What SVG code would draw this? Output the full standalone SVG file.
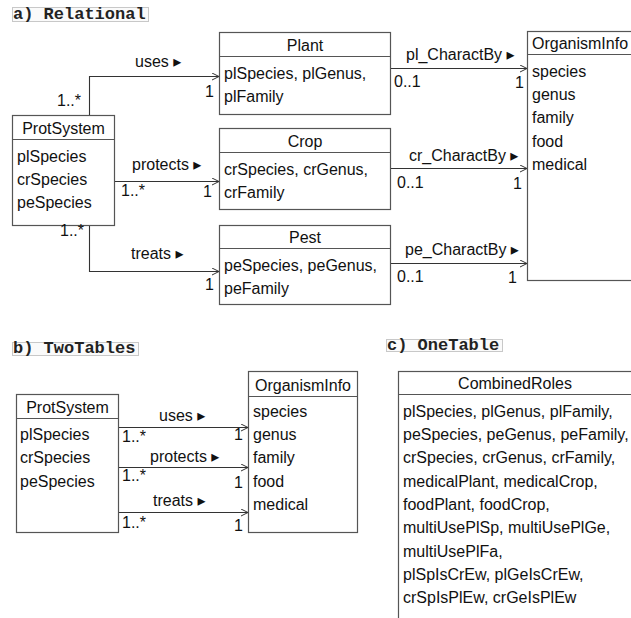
<svg xmlns="http://www.w3.org/2000/svg" width="631" height="618" viewBox="0 0 631 618">
<style>
.bg{fill:#ffffff}
.title{font-family:"Liberation Mono","Courier New",monospace;font-weight:bold;font-size:17px;fill:#222}
.tbox{fill:#fafafa;stroke:#c8c8c8;stroke-width:1}
.box{fill:#ffffff;stroke:#555555;stroke-width:1.2}
.div{stroke:#555555;stroke-width:1.2}
.t{font-family:"Liberation Sans",Arial,"DejaVu Sans",sans-serif;font-size:16px;fill:#111}
.c{text-anchor:middle}
.e{text-anchor:end}
.ln{fill:none;stroke:#333333;stroke-width:1.1}
</style>
<defs>
<marker id="arr" markerUnits="userSpaceOnUse" markerWidth="10" markerHeight="10" refX="8" refY="4" orient="auto">
<path d="M1,0.5 L8,4 L1,7.5" fill="none" stroke="#333" stroke-width="1"/>
</marker>
</defs>
<rect class="bg" x="0" y="0" width="631" height="618"/>

<!-- titles -->
<g id="title-a"><rect class="tbox" x="12.5" y="7.5" width="136" height="14"/><text class="title" x="13" y="19">a) Relational</text></g>
<g id="title-b"><rect class="tbox" x="12.5" y="342.5" width="126" height="13"/><text class="title" x="13" y="353">b) TwoTables</text></g>
<g id="title-c"><rect class="tbox" x="386.5" y="339.5" width="116" height="12"/><text class="title" x="387" y="350">c) OneTable</text></g>

<!-- a) Relational -->
<g id="a-ProtSystem">
<rect class="box" x="12.5" y="115.5" width="102" height="110"/>
<line class="div" x1="12.5" y1="139.5" x2="114.5" y2="139.5"/>
<text class="t c" x="63.5" y="134">ProtSystem</text>
<text class="t" x="17" y="162">plSpecies</text>
<text class="t" x="17" y="185">crSpecies</text>
<text class="t" x="17" y="208">peSpecies</text>
</g>
<g id="a-Plant">
<rect class="box" x="219.5" y="32.5" width="171" height="82"/>
<line class="div" x1="219.5" y1="56.5" x2="390.5" y2="56.5"/>
<text class="t c" x="305" y="51">Plant</text>
<text class="t" x="224" y="79">plSpecies, plGenus,</text>
<text class="t" x="224" y="102">plFamily</text>
</g>
<g id="a-Crop">
<rect class="box" x="219.5" y="128.5" width="171" height="81"/>
<line class="div" x1="219.5" y1="152.5" x2="390.5" y2="152.5"/>
<text class="t c" x="305" y="147">Crop</text>
<text class="t" x="224" y="175">crSpecies, crGenus,</text>
<text class="t" x="224" y="198">crFamily</text>
</g>
<g id="a-Pest">
<rect class="box" x="219.5" y="225.5" width="171" height="79"/>
<line class="div" x1="219.5" y1="248.5" x2="390.5" y2="248.5"/>
<text class="t c" x="305" y="243">Pest</text>
<text class="t" x="224" y="271">peSpecies, peGenus,</text>
<text class="t" x="224" y="294">peFamily</text>
</g>
<g id="a-OrganismInfo">
<rect class="box" x="527.5" y="31.5" width="110" height="249"/>
<line class="div" x1="527.5" y1="54.5" x2="637.5" y2="54.5"/>
<text class="t" x="532" y="49">OrganismInfo</text>
<text class="t" x="532" y="77">species</text>
<text class="t" x="532" y="100">genus</text>
<text class="t" x="532" y="123">family</text>
<text class="t" x="532" y="147">food</text>
<text class="t" x="532" y="170">medical</text>
</g>

<g id="a-connectors">
<path class="ln" d="M89.5,115 V76.5 H219" marker-end="url(#arr)"/>
<text class="t" x="135" y="67">uses ▸</text>
<text class="t" x="57" y="106">1..*</text>
<text class="t" x="205" y="97">1</text>

<path class="ln" d="M115,181.5 H219" marker-end="url(#arr)"/>
<text class="t" x="132" y="170">protects ▸</text>
<text class="t" x="121" y="196">1..*</text>
<text class="t" x="203" y="197">1</text>

<path class="ln" d="M89.5,226 V271.5 H219" marker-end="url(#arr)"/>
<text class="t" x="131" y="259">treats ▸</text>
<text class="t" x="60" y="236">1..*</text>
<text class="t" x="205" y="290">1</text>

<path class="ln" d="M391,68.5 H527" marker-end="url(#arr)"/>
<text class="t" x="406" y="60">pl_CharactBy ▸</text>
<text class="t" x="394" y="87">0..1</text>
<text class="t" x="515" y="88">1</text>

<path class="ln" d="M391,168.5 H527" marker-end="url(#arr)"/>
<text class="t" x="409" y="161">cr_CharactBy ▸</text>
<text class="t" x="397" y="188">0..1</text>
<text class="t" x="513" y="189">1</text>

<path class="ln" d="M391,263.5 H527" marker-end="url(#arr)"/>
<text class="t" x="405" y="255">pe_CharactBy ▸</text>
<text class="t" x="397" y="282">0..1</text>
<text class="t" x="508" y="283">1</text>
</g>

<!-- b) TwoTables -->
<g id="b-ProtSystem">
<rect class="box" x="16.5" y="394.5" width="102" height="138"/>
<line class="div" x1="16.5" y1="418.5" x2="118.5" y2="418.5"/>
<text class="t c" x="67.5" y="413">ProtSystem</text>
<text class="t" x="20" y="440">plSpecies</text>
<text class="t" x="20" y="463">crSpecies</text>
<text class="t" x="20" y="487">peSpecies</text>
</g>
<g id="b-OrganismInfo">
<rect class="box" x="248.5" y="371.5" width="109" height="161"/>
<line class="div" x1="248.5" y1="396.5" x2="357.5" y2="396.5"/>
<text class="t c" x="303" y="391">OrganismInfo</text>
<text class="t" x="253" y="417">species</text>
<text class="t" x="253" y="440">genus</text>
<text class="t" x="253" y="463">family</text>
<text class="t" x="253" y="487">food</text>
<text class="t" x="253" y="510">medical</text>
</g>
<g id="b-connectors">
<path class="ln" d="M119,427.5 H248" marker-end="url(#arr)"/>
<text class="t" x="159" y="421">uses ▸</text>
<text class="t" x="122" y="442">1..*</text>
<text class="t" x="234" y="440">1</text>

<path class="ln" d="M119,467.5 H248" marker-end="url(#arr)"/>
<text class="t" x="150" y="462">protects ▸</text>
<text class="t" x="122" y="481">1..*</text>
<text class="t" x="234" y="488">1</text>

<path class="ln" d="M119,512.5 H248" marker-end="url(#arr)"/>
<text class="t" x="153" y="506">treats ▸</text>
<text class="t" x="122" y="528">1..*</text>
<text class="t" x="234" y="531">1</text>
</g>

<!-- c) OneTable -->
<g id="c-CombinedRoles">
<rect class="box" x="398.5" y="371.5" width="234" height="260"/>
<line class="div" x1="398.5" y1="394.5" x2="632.5" y2="394.5"/>
<text class="t c" x="515" y="389">CombinedRoles</text>
<text class="t" x="403" y="417">plSpecies, plGenus, plFamily,</text>
<text class="t" x="403" y="440">peSpecies, peGenus, peFamily,</text>
<text class="t" x="403" y="463">crSpecies, crGenus, crFamily,</text>
<text class="t" x="403" y="487">medicalPlant, medicalCrop,</text>
<text class="t" x="403" y="510">foodPlant, foodCrop,</text>
<text class="t" x="403" y="533">multiUsePlSp, multiUsePlGe,</text>
<text class="t" x="403" y="557">multiUsePlFa,</text>
<text class="t" x="403" y="580">plSpIsCrEw, plGeIsCrEw,</text>
<text class="t" x="403" y="603">crSpIsPlEw, crGeIsPlEw</text>
</g>
</svg>
